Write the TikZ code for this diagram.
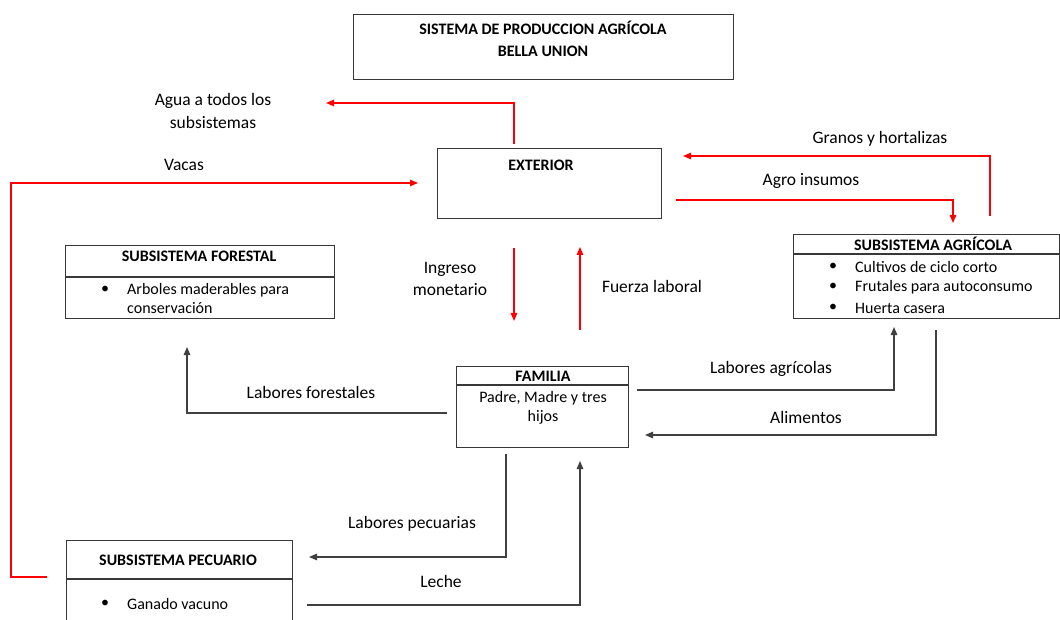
\documentclass[tikz,border=0pt]{standalone}
\usepackage{fontspec}
\setmainfont{Carlito}
\usetikzlibrary{arrows.meta}
\begin{document}
\begin{tikzpicture}[x=1pt,y=-1pt,
  box/.style={draw=black!78, line width=1.2pt, inner sep=0, anchor=north west},
  rule/.style={draw=black!78, line width=1.2pt},
  lbl/.style={font=\fontsize{17.5}{22.5}\selectfont, align=center, inner sep=0},
  hdr/.style={font=\fontsize{16}{22}\selectfont\bfseries, align=center, inner sep=0},
  txt/.style={font=\fontsize{16}{19}\selectfont, inner sep=0},
  itm/.style={txt, anchor=west},
  redflow/.style={draw=red, line width=1.3pt, -{Triangle[length=8,width=6.5]}},
  blkflow/.style={draw=black!75, line width=1.3pt, -{Triangle[length=8,width=6.5]}},
]
\clip (0,0) rectangle (1060,620);
\fill[white] (0,0) rectangle (1060,620);

% ---------- boxes ----------
\node[box, minimum width=380, minimum height=65] (title) at (353,14) {};
\node[box, minimum width=224, minimum height=70] (ext) at (437,148) {};
\node[box, minimum width=266, minimum height=84] (agr) at (793,234) {};
\node[box, minimum width=269, minimum height=73] (for) at (65,245) {};
\node[box, minimum width=172, minimum height=81] (fam) at (456,366) {};
\node[box, minimum width=226, minimum height=95] (pec) at (66,540) {};

% header dividers
\draw[rule] (agr.west |- 0,254) -- (agr.east |- 0,254);
\draw[rule] (for.west |- 0,277) -- (for.east |- 0,277);
\draw[rule] (fam.west |- 0,385) -- (fam.east |- 0,385);
\draw[rule] (pec.west |- 0,579) -- (pec.east |- 0,579);

% ---------- box texts ----------
\node[hdr] (titletxt) at (543,39) {SISTEMA DE PRODUCCION AGRÍCOLA\\BELLA UNION};
\node[hdr] (exttxt) at (541,165) {EXTERIOR};

\node[hdr] (agrhdr) at (933,244) {SUBSISTEMA AGRÍCOLA};
\node[txt] (agrb1) at (833,267) {•};
\node[txt] (agrb2) at (833,287) {•};
\node[txt] (agrb3) at (833,308) {•};
\node[itm] (agri1) at (855,267) {Cultivos de ciclo corto};
\node[itm] (agri2) at (855,287) {Frutales para autoconsumo};
\node[itm] (agri3) at (855,308) {Huerta casera};

\node[hdr] (forhdr) at (199,256) {SUBSISTEMA FORESTAL};
\node[txt] (forb1) at (105,290) {•};
\node[itm] (fori1) at (127,290) {Arboles maderables para};
\node[itm] (fori2) at (127,308) {conservación};

\node[hdr] (famhdr) at (543,376) {FAMILIA};
\node[txt, align=center] (famtxt) at (543,408) {Padre, Madre y tres\\hijos};

\node[hdr] (pechdr) at (178,560) {SUBSISTEMA PECUARIO};
\node[txt] (pecb1) at (105,604) {•};
\node[itm] (peci1) at (127,604) {Ganado vacuno};

% ---------- flow labels ----------
\node[lbl] (lagua) at (213,111) {Agua a todos los\\subsistemas};
\node[lbl] (lvacas) at (184,165) {Vacas};
\node[lbl] (lgranos) at (880,139) {Granos y hortalizas};
\node[lbl] (lagro) at (811,181) {Agro insumos};
\node[lbl] (ling) at (450,279) {Ingreso\\monetario};
\node[lbl] (lfuerza) at (652,286) {Fuerza laboral};
\node[lbl] (lforest) at (311,392) {Labores forestales};
\node[lbl] (lagric) at (771,369) {Labores agrícolas};
\node[lbl] (lalim) at (806,417) {Alimentos};
\node[lbl] (lpecu) at (412,524) {Labores pecuarias};
\node[lbl] (lleche) at (441,581) {Leche};

% ---------- connector end points ----------
\coordinate (aguaA) at (514,144); \coordinate (aguaB) at (514,103); \coordinate (aguaC) at (326,103);
\coordinate (vacA) at (47,577); \coordinate (vacB) at (11,577); \coordinate (vacC) at (11,183); \coordinate (vacD) at (418,183);
\coordinate (graA) at (990,216); \coordinate (graB) at (990,156); \coordinate (graC) at (683,156);
\coordinate (agroA) at (676,200); \coordinate (agroB) at (953,200); \coordinate (agroC) at (953,223);
\coordinate (ingA) at (514,248); \coordinate (ingB) at (514,321);
\coordinate (fueA) at (580,330); \coordinate (fueB) at (580,247);
\coordinate (lfA) at (447,413); \coordinate (lfB) at (187,413); \coordinate (lfC) at (187,347);
\coordinate (laA) at (637,390); \coordinate (laB) at (894,390); \coordinate (laC) at (894,327);
\coordinate (alA) at (936,330); \coordinate (alB) at (936,435); \coordinate (alC) at (645,435);
\coordinate (lpA) at (506,454); \coordinate (lpB) at (506,557); \coordinate (lpC) at (309,557);
\coordinate (leA) at (307,605); \coordinate (leB) at (580,605); \coordinate (leC) at (580,461);

% ---------- red flows (exchange with the exterior) ----------
\draw[redflow] (aguaA) -- (aguaB) -- (aguaC);
\draw[redflow] (vacA) -- (vacB) -- (vacC) -- (vacD);
\draw[redflow] (graA) -- (graB) -- (graC);
\draw[redflow] (agroA) -- (agroB) -- (agroC);
\draw[redflow] (ingA) -- (ingB);
\draw[redflow] (fueA) -- (fueB);

% ---------- black flows (internal) ----------
\draw[blkflow] (lfA) -- (lfB) -- (lfC);
\draw[blkflow] (laA) -- (laB) -- (laC);
\draw[blkflow] (alA) -- (alB) -- (alC);
\draw[blkflow] (lpA) -- (lpB) -- (lpC);
\draw[blkflow] (leA) -- (leB) -- (leC);
\end{tikzpicture}
\end{document}
